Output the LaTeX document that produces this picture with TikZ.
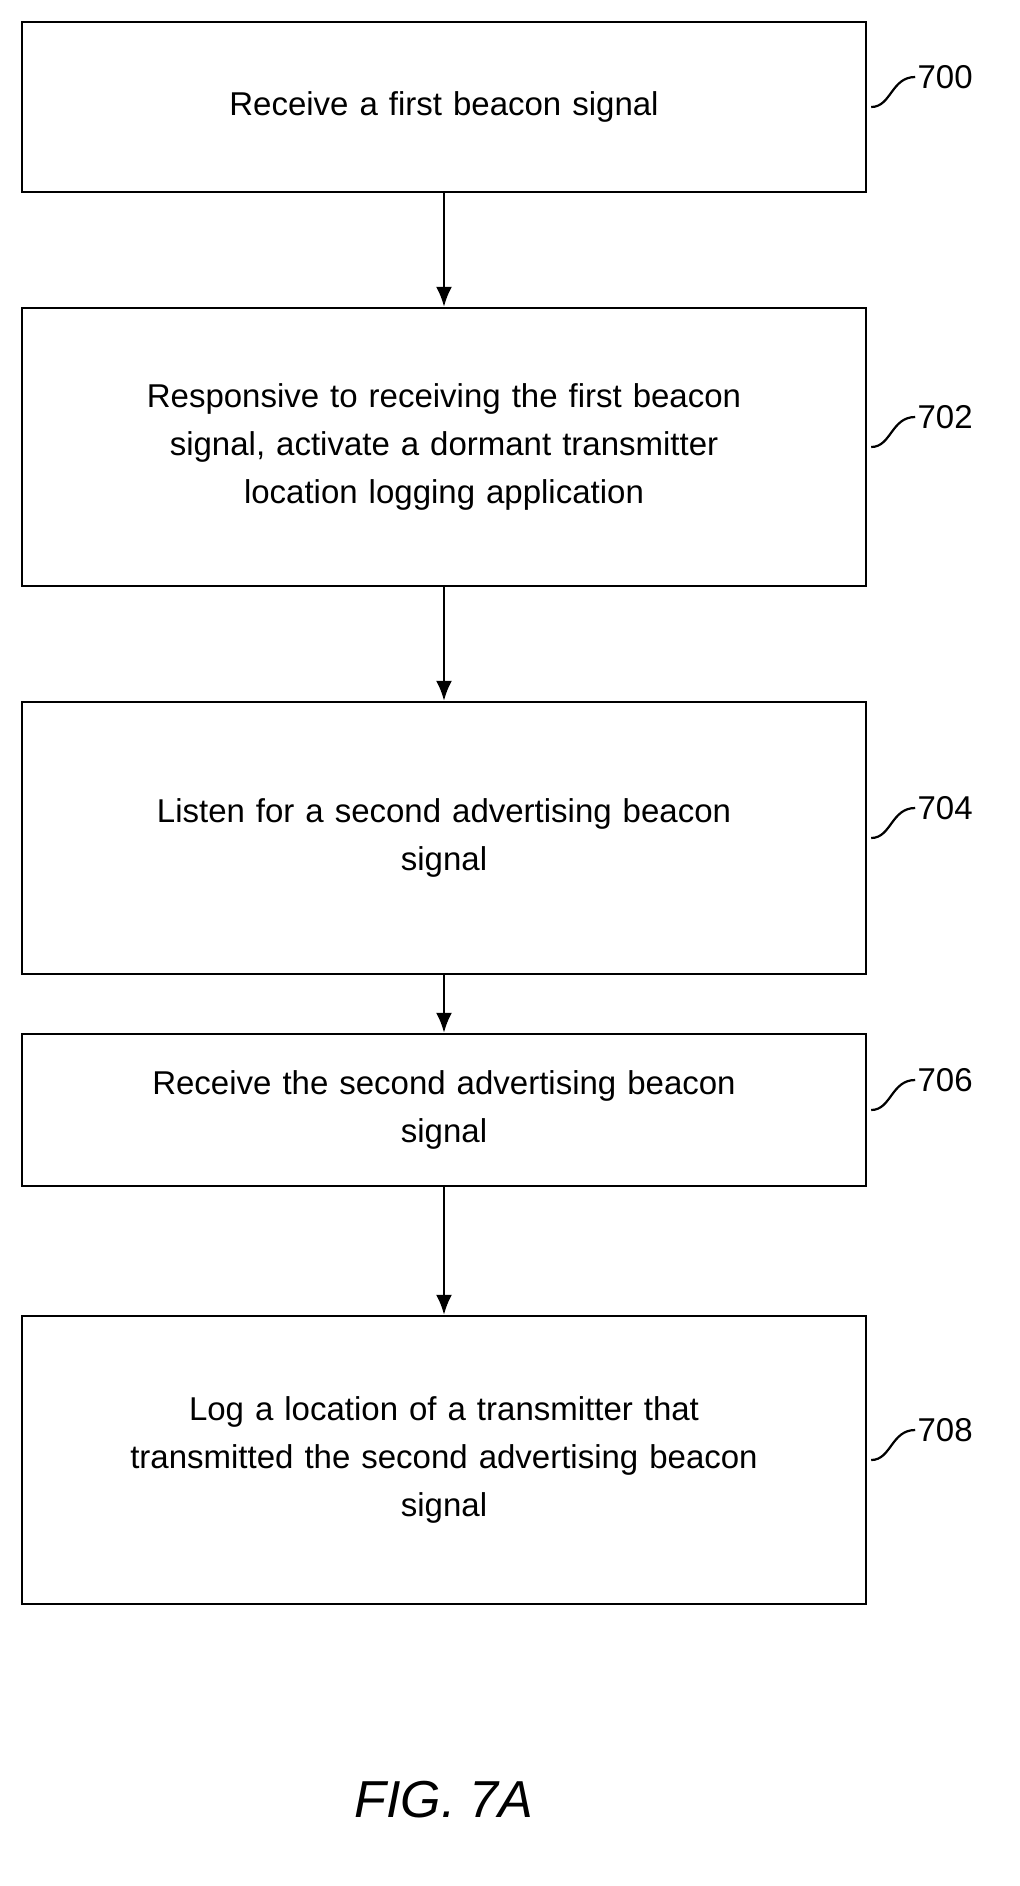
\documentclass[tikz,border=0pt]{standalone}
\usepackage{fontspec}
\setmainfont{Liberation Sans}
\usetikzlibrary{arrows.meta,calc}
\tikzset{
  stepBox/.style={
    rectangle,
    draw=black,
    line width=1.2pt,
    minimum width=422pt,
    text width=400pt,
    align=center,
    font=\fontsize{16.5}{24}\selectfont
  },
  arrowLine/.style={
    -{Latex[length=10pt,width=8pt]},
    line width=1.2pt
  },
  refLabel/.style={
    font=\fontsize{16.5}{20}\selectfont,
    anchor=west,
    inner sep=1pt
  }
}
\begin{document}
\begin{tikzpicture}[x=0.5pt,y=-0.5pt]
    \useasboundingbox (0,0) rectangle (1020,1886);

    \node[stepBox, minimum height=85pt] (recv1) at (444,107) {Receive a first beacon signal};
    \node[stepBox, minimum height=139pt] (activate) at (444,447) {Responsive to receiving the first beacon\\signal, activate a dormant transmitter\\location logging application};
    \node[stepBox, minimum height=136pt] (listen) at (444,838) {Listen for a second advertising beacon\\signal};
    \node[stepBox, minimum height=76pt] (recv2) at (444,1110) {Receive the second advertising beacon\\signal};
    \node[stepBox, minimum height=144pt] (logloc) at (444,1460) {Log a location of a transmitter that\\transmitted the second advertising beacon\\signal};

    \draw[arrowLine] (recv1) -- (activate);
    \draw[arrowLine] (activate) -- (listen);
    \draw[arrowLine] (listen) -- (recv2);
    \draw[arrowLine] (recv2) -- (logloc);

    % reference numerals
    \foreach \n/\lbl in {recv1/700, activate/702, listen/704, recv2/706, logloc/708}{
      \coordinate (\n-a) at ($(\n.east)+(4,0)$);
      \node[refLabel] (\n-ref) at ($(\n.east)+(48,-30)$) {\lbl};
      \draw[line width=1.1pt] (\n-a) .. controls ($(\n-a)+(20,0)$) and ($(\n-ref.west)+(-24,0)$) .. (\n-ref.west);
    }

    \node[font=\fontsize{26}{30}\selectfont\itshape] (fig) at (444,1800) {FIG. 7A};
\end{tikzpicture}
\end{document}
